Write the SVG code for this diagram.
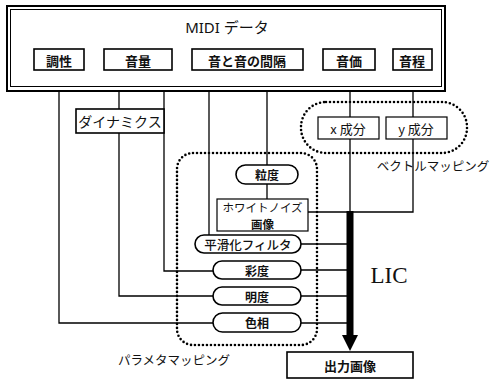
<svg xmlns="http://www.w3.org/2000/svg" width="493" height="382" viewBox="0 0 493 382">
<style>
.box{fill:#fff;stroke:#000;stroke-width:1.6}
.thin{fill:#fff;stroke:#000;stroke-width:1.2}
.ln{fill:none;stroke:#000;stroke-width:1.3}
.dot{fill:none;stroke:#000;stroke-width:2.6;stroke-dasharray:0 4;stroke-linecap:round}
text{font-family:"Noto Sans CJK JP","Noto Sans",sans-serif;text-anchor:middle;dominant-baseline:central;fill:#111}
.b{font-weight:bold;font-size:13px}
.r{font-size:13px}
</style>
<rect width="493" height="382" fill="#fff"/>
<g id="connectors">
<path class="ln" d="M59,70 V323 H213"/>
<path class="ln" d="M119,70 V109 M119,133 V296 H213"/>
<path class="ln" d="M164,70 V271 H213"/>
<path class="ln" d="M209,70 V235"/>
<path class="ln" d="M267,70 V165 M267,184 V199"/>
<path class="ln" d="M350,70 V117 M350,139 V212"/>
<path class="ln" d="M413,70 V117 M413,139 V212 H350"/>
<path class="ln" d="M308,212 H350"/>
<path class="ln" d="M301,244 H350 M301,270 H350 M301,296 H350 M301,323 H350"/>
<rect x="346.5" y="211" width="7" height="126" fill="#000"/>
<polygon points="342,335 358,335 350,351" fill="#000"/>
</g>
<g id="midi">
<rect x="7" y="6" width="438" height="85" fill="#fff" stroke="#000" stroke-width="2"/>
<rect x="10.5" y="9.5" width="431" height="77" fill="none" stroke="#000" stroke-width="1"/>
<text x="227" y="27" style="font-size:15px;font-family:'Noto Sans','Noto Sans CJK JP',sans-serif">MIDI データ</text>
</g>
<g id="chousei"><rect class="box" x="34" y="49" width="50" height="21"/><text class="b" x="59" y="60">調性</text></g>
<g id="onryou"><rect class="box" x="104" y="49" width="68" height="21"/><text class="b" x="138" y="60">音量</text></g>
<g id="kankaku"><rect class="box" x="192" y="49" width="111" height="21"/><text class="b" x="247" y="60">音と音の間隔</text></g>
<g id="onka"><rect class="box" x="323" y="49" width="52" height="21"/><text class="b" x="349" y="60">音価</text></g>
<g id="ontei"><rect class="box" x="393" y="49" width="39" height="21"/><text class="b" x="412" y="60">音程</text></g>
<g id="dynamics"><rect class="box" x="76" y="109" width="88" height="24"/><text class="r" x="120" y="121" style="font-size:14px">ダイナミクス</text></g>
<g id="vector">
<rect class="dot" x="301" y="102" width="166" height="51" rx="25"/>
<text x="433" y="165" style="font-size:12.5px">ベクトルマッピング</text>
</g>
<g id="xcomp"><rect class="thin" x="318" y="117" width="61" height="22"/><text class="r" x="348" y="128">x 成分</text></g>
<g id="ycomp"><rect class="thin" x="386" y="117" width="61" height="22"/><text class="r" x="416" y="128">y 成分</text></g>
<g id="param">
<rect class="dot" x="177" y="153" width="140" height="192" rx="16"/>
<text x="174" y="359" style="font-size:12.5px">パラメタマッピング</text>
</g>
<g id="ryudo"><rect class="box" x="236" y="165" width="62" height="19" rx="9.5"/><text class="b" x="267" y="174.5" style="font-size:12px">粒度</text></g>
<g id="whitenoise"><rect class="thin" x="217" y="199" width="91" height="32"/><text class="r" x="262.5" y="206.5" style="font-size:11.5px">ホワイトノイズ</text><text class="b" x="262.5" y="223.5" style="font-size:11.5px">画像</text></g>
<g id="smooth"><rect class="box" x="195" y="235" width="106" height="18" rx="9"/><text x="248" y="244" style="font-size:12.5px;font-weight:500">平滑化フィルタ</text></g>
<g id="saido"><rect class="box" x="213" y="261" width="88" height="18" rx="9"/><text class="b" x="257" y="270" style="font-size:12px">彩度</text></g>
<g id="meido"><rect class="box" x="213" y="287" width="88" height="18" rx="9"/><text class="b" x="257" y="296" style="font-size:12px">明度</text></g>
<g id="shikisou"><rect class="box" x="213" y="313" width="88" height="19" rx="9.5"/><text class="b" x="257" y="322.5" style="font-size:12px">色相</text></g>
<text x="389" y="275" style="font-family:'Liberation Serif',serif;font-size:23px">LIC</text>
<g id="output"><rect class="box" x="287" y="352" width="126" height="26"/><text class="b" x="350" y="365">出力画像</text></g>
</svg>
